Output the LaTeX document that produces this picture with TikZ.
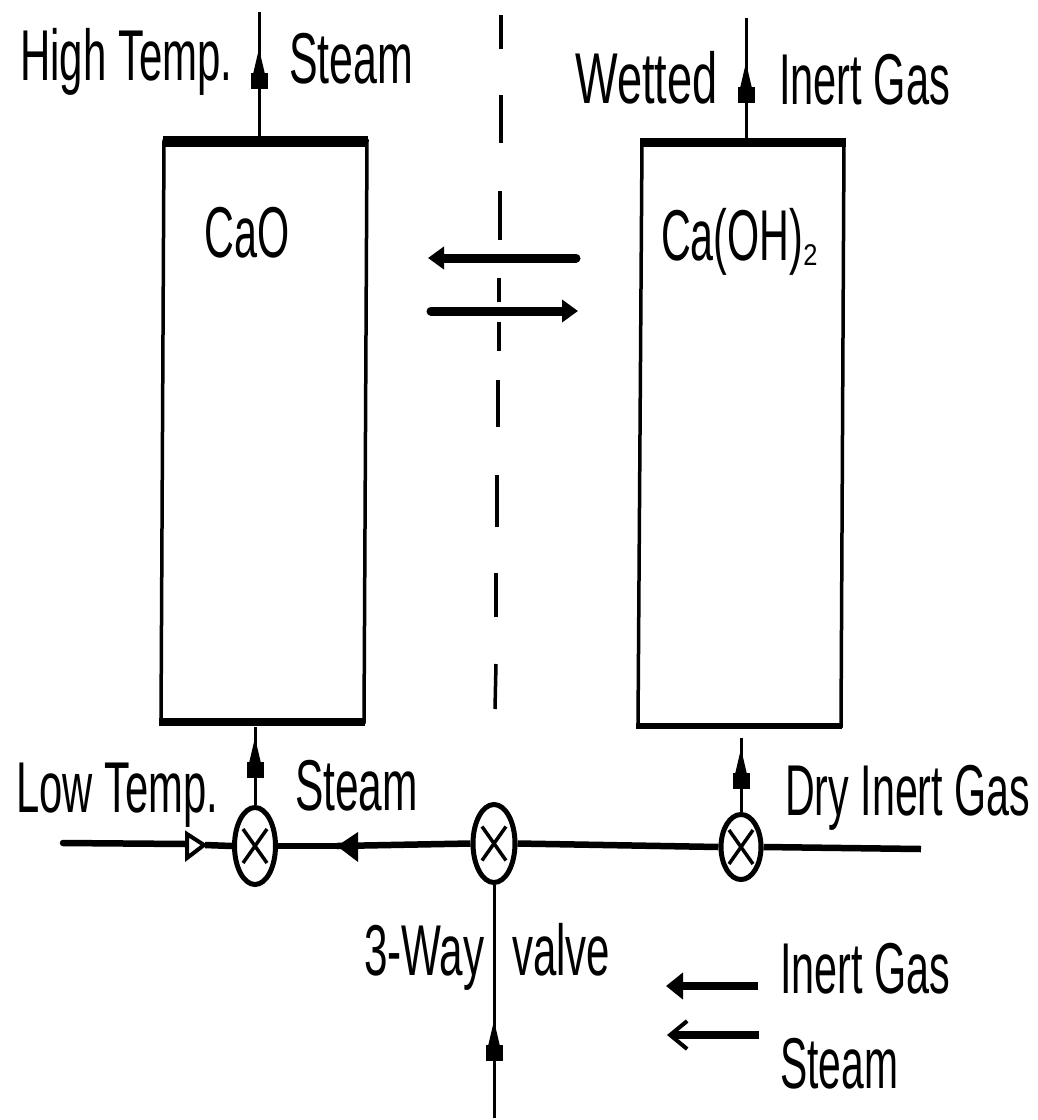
\documentclass[tikz,border=0pt]{standalone}
\usepackage{fontspec}
\setmainfont{Liberation Sans}
\usetikzlibrary{arrows.meta,shapes.geometric}
\newcommand\lblfit[2]{\scalebox{#1}[1]{#2}}
\tikzset{
  lab/.style={anchor=base west,inner sep=0pt,font=\fontsize{72}{80}\selectfont},
  vesselwall/.style={line width=3.5pt,line join=miter},
  valve/.style={draw=black,line width=5pt,ellipse,inner sep=0pt},
  stem/.style={line width=3pt},
  flow/.style={line width=6.5pt},
  thickflow/.style={line width=9pt,line cap=round},
  block/.style={-{Square[length=16pt,width=17pt,sep=-1pt] Triangle[length=26pt,width=11pt]}},
  valvex/.style={line width=3.5pt},
  chain/.style={line width=3.5pt}
}
\begin{document}
\begin{tikzpicture}[x=1pt,y=-1pt]
\useasboundingbox (0,0) rectangle (1037,1120);
% vessels
\coordinate (Ltl) at (164,141); \coordinate (Ltr) at (367,141);
\coordinate (Lbl) at (161,722); \coordinate (Lbr) at (364,722);
\coordinate (Rtl) at (642,142); \coordinate (Rtr) at (844,142);
\coordinate (Rbl) at (638,726); \coordinate (Rbr) at (841,726);
\draw[vesselwall] (Ltl) -- (Ltr) -- (Lbr) -- (Lbl) -- cycle;
\draw[vesselwall] (Rtl) -- (Rtr) -- (Rbr) -- (Rbl) -- cycle;
\draw[line width=11pt] (163,141) -- (368,141);
\draw[line width=8pt] (159,722) -- (365,722);
\draw[line width=9pt] (640,142) -- (846,142);
\draw[line width=6.5pt] (636,726) -- (842,726);
\node[lab] (caoT) at (204,257) {\lblfit{.574}{CaO}};
\node[lab] (cahT) at (661,260) {\lblfit{.573}{Ca(OH)}\raisebox{-5pt}{\fontsize{30}{32}\selectfont\lblfit{.85}{2}}};
% top outlets
\coordinate (topLend) at (259,12);
\coordinate (topLmid) at (259,48);
\coordinate (topLlow) at (259,90);
\coordinate (topLbot) at (259,137);
\draw[stem] (topLbot) -- (topLend);
\draw[stem,block] (topLlow) -- (topLmid);
\coordinate (topRend) at (746,18);
\coordinate (topRmid) at (746,62);
\coordinate (topRlow) at (746,104);
\coordinate (topRbot) at (746,140);
\draw[stem] (topRbot) -- (topRend);
\draw[stem,block] (topRlow) -- (topRmid);
% valves
\node[valve,minimum width=41pt,minimum height=77pt] (vA) at (255,846) {};
\node[valve,minimum width=42pt,minimum height=78pt] (vB) at (494,843.5) {};
\node[valve,minimum width=40pt,minimum height=65pt] (vC) at (741,847) {};
\foreach \v in {vA,vB,vC}{
  \draw[valvex] ([shift={(-12,-17)}]\v.center) -- ([shift={(12,17)}]\v.center);
  \draw[valvex] ([shift={(12,-17)}]\v.center) -- ([shift={(-12,17)}]\v.center);
}
% main line
\coordinate (inL) at (63,843);
\coordinate (headO) at (205,845);
\coordinate (headS) at (337,846);
\coordinate (inR) at (921,849);
\draw[flow,line cap=round] (inL) -- (186,844);
\draw[line width=4pt,fill=white,line join=miter] (187,834) -- (204,845) -- (187,858) -- cycle;
\draw[flow] (headO) -- (vA.west);
\draw[flow] (vB.west) -- (headS);
\draw[flow] (headS) -- (vA.east);
\fill (337,846) -- (358,832) -- (358,862) -- cycle;
\draw[flow] (vC.west) -- (vB.east);
\draw[flow] (inR) -- (vC.east);
% lower stems
\coordinate (uLtop) at (255,727);
\coordinate (uLmid) at (255,737);
\coordinate (uLlow) at (255,783);
\draw[stem] (vA.north) -- (uLtop);
\draw[stem,block] (uLlow) -- (uLmid);
\coordinate (uRtop) at (741,738);
\coordinate (uRmid) at (741,748);
\coordinate (uRlow) at (741,790);
\draw[stem] (vC.north) -- (uRtop);
\draw[stem,block] (uRlow) -- (uRmid);
\coordinate (uBend) at (494,1118);
\coordinate (uBmid) at (494,1020);
\coordinate (uBlow) at (494,1064);
\draw[stem] (uBend) -- (vB.south);
\draw[stem,block] (uBlow) -- (uBmid);
% centre chain line
\coordinate (c1a) at (501,15); \coordinate (c1b) at (501,49);
\coordinate (c2a) at (501,95); \coordinate (c2b) at (501,143);
\coordinate (c3a) at (500,191); \coordinate (c3b) at (500,240);
\coordinate (c4a) at (499,278); \coordinate (c4b) at (499,302);
\coordinate (c5a) at (499,322); \coordinate (c5b) at (499,351);
\coordinate (c6a) at (498,380); \coordinate (c6b) at (498,427);
\coordinate (c7a) at (497,475); \coordinate (c7b) at (497,527);
\coordinate (c8a) at (496,573); \coordinate (c8b) at (496,617);
\coordinate (c9a) at (496,664); \coordinate (c9b) at (495,709);
\foreach \s in {1,...,9}{\draw[chain] (c\s a) -- (c\s b);}
% reaction arrows
\coordinate (rA) at (576,258); \coordinate (rB) at (428,258);
\coordinate (rC) at (431,311); \coordinate (rD) at (578,311);
\draw[thickflow,-{Triangle[length=16pt,width=22pt]}] (rA) -- (rB);
\draw[thickflow,-{Triangle[length=16pt,width=22pt]}] (rC) -- (rD);
% legend
\coordinate (lgA) at (758,986); \coordinate (lgB) at (666,986);
\coordinate (lgC) at (759,1035); \coordinate (lgD) at (667,1035);
\draw[line width=8pt,-{Triangle[length=17pt,width=26pt]}] (lgA) -- (lgB);
\draw[line width=8pt,-{Straight Barb[length=17pt,width=28pt,line width=4pt]}] (lgC) -- (lgD);
% labels
\node[lab] (t1) at (20,80) {\lblfit{.583}{High Temp.}};
\node[lab] (t2) at (289,83) {\lblfit{.596}{Steam}};
\node[lab] (t3) at (575,103) {\lblfit{.627}{Wetted}};
\node[lab] (t4) at (779,104) {\lblfit{.577}{Inert Gas}};
\node[lab] (t5) at (16,812) {\lblfit{.58}{Low Temp.}};
\node[lab] (t6) at (295,810) {\lblfit{.59}{Steam}};
\node[lab] (t7) at (785,815) {\lblfit{.572}{Dry Inert Gas}};
\node[lab] (t8) at (364,975) {\lblfit{.586}{3-Way}};
\node[lab] (t9) at (512,975) {\lblfit{.583}{valve}};
\node[lab] (t10) at (780,993) {\lblfit{.574}{Inert Gas}};
\node[lab] (t11) at (780,1088) {\lblfit{.567}{Steam}};
\end{tikzpicture}
\end{document}
